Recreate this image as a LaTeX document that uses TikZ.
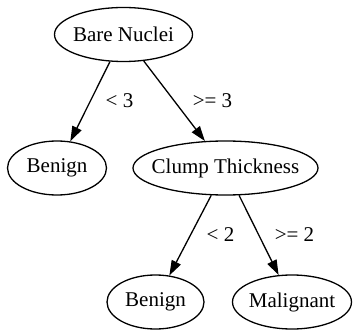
\documentclass[tikz,border=0pt]{standalone}
\usepackage{fontspec}
\setmainfont{Liberation Serif}
\usetikzlibrary{shapes.geometric,arrows.meta}
\newcommand\ztext[1]{\makebox[0pt]{#1}}
\begin{document}
\begin{tikzpicture}[x=1pt,y=-1pt,
  every node/.style={font=\fontsize{21}{25}\selectfont},
  treenode/.style={ellipse,draw,line width=1.3pt,inner sep=0pt,minimum height=54pt},
  edgelabel/.style={inner sep=0pt},
  branch/.style={line width=1.3pt,-{Triangle[length=15pt,width=10pt]}}]
  \useasboundingbox (0,0) rectangle (353,331);
  % decision nodes and leaves
  \node[treenode,minimum width=138pt] (bn) at (123.5,34.5) {\ztext{Bare Nuclei}};
  \node[treenode,minimum width=99pt]  (bl) at (57,168)     {\ztext{Benign}};
  \node[treenode,minimum width=185pt] (ct) at (225.5,168)  {\ztext{Clump Thickness}};
  \node[treenode,minimum width=97pt]  (br) at (155.5,302)  {\ztext{Benign}};
  \node[treenode,minimum width=119pt] (mg) at (292,302)    {\ztext{Malignant}};
  % branches
  \draw[branch] (bn) -- (bl);
  \draw[branch] (bn) -- (ct);
  \draw[branch] (ct) -- (br);
  \draw[branch] (ct) -- (mg);
  % branch conditions
  \node[edgelabel] (l1) at (119.5,101) {< 3};
  \node[edgelabel] (l2) at (212.5,101) {>= 3};
  \node[edgelabel] (l3) at (220.5,235) {< 2};
  \node[edgelabel] (l4) at (294.5,235) {>= 2};
\end{tikzpicture}
\end{document}
